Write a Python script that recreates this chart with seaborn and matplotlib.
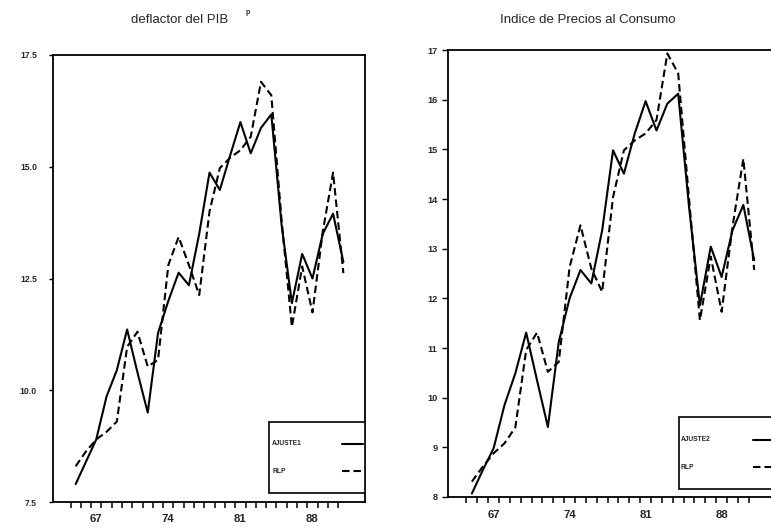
import numpy as np
import pandas as pd
import matplotlib
matplotlib.use("Agg")
import matplotlib.pyplot as plt
import seaborn as sns
from matplotlib.patches import Rectangle
from matplotlib.lines import Line2D

# ---- data ----
years = list(range(65, 92))
pib_ajuste = [7.9, 8.4, 8.9, 9.86, 10.45, 11.36, 10.4, 9.5, 11.28, 12.0, 12.63, 12.35, 13.5,
              14.87, 14.48, 15.25, 16.0, 15.3, 15.87, 16.17, 13.7, 11.95, 13.05, 12.5, 13.5,
              13.95, 12.87]
pib_rlp = [8.3, 8.63, 8.9, 9.07, 9.3, 10.97, 11.31, 10.53, 10.68, 12.8, 13.43, 12.8, 12.13,
           14.0, 14.97, 15.2, 15.37, 15.67, 16.9, 16.6, 13.8, 11.42, 12.77, 11.74, 13.55,
           14.87, 12.62]
ipc_ajuste = [8.07, 8.54, 8.98, 9.85, 10.49, 11.31, 10.35, 9.41, 11.12, 12.0, 12.57, 12.3,
              13.37, 14.98, 14.51, 15.32, 15.97, 15.38, 15.92, 16.12, 13.84, 11.86, 13.04,
              12.43, 13.37, 13.88, 12.77]
ipc_rlp = [8.31, 8.61, 8.88, 9.08, 9.4, 10.96, 11.31, 10.52, 10.72, 12.63, 13.47, 12.6, 12.13,
           14.04, 14.98, 15.18, 15.32, 15.59, 16.93, 16.53, 14.0, 11.56, 12.84, 11.73, 13.44,
           14.81, 12.57]
xtick_labels = [67, 74, 81, 88]
left_yticks = [7.5, 10.0, 12.5, 15.0, 17.5]
right_yticks = [8, 9, 10, 11, 12, 13, 14, 15, 16, 17]
titles = ["deflactor del PIB", "Indice de Precios al Consumo"]
legend_labels = [["AJUSTE1", "RLP"], ["AJUSTE2", "RLP"]]

sns.set_theme(style="white")
plt.rcParams['font.family'] = ['Liberation Sans', 'DejaVu Sans']

W, H = 771, 531
fig = plt.figure(figsize=(W / 100, H / 100), dpi=100)

def px_axes(x0, y0, x1, y1):
    return fig.add_axes([x0 / W, 1 - y1 / H, (x1 - x0) / W, (y1 - y0) / H])

axL = px_axes(53, 55, 365, 502)
axR = px_axes(448, 50, 777, 497)

panels = [
    (axL, pib_ajuste, pib_rlp, (7.5, 17.5), left_yticks, "{:.1f}", 8.5, 6.2, 3.0),
    (axR, ipc_ajuste, ipc_rlp, (8, 17), right_yticks, "{:d}", 3.5, 6.6, 4.0),
]

for i, (ax, aj, rlp, ylim, yt, fmt, ypad, yfs, ylen) in enumerate(panels):
    df = pd.DataFrame({
        "year": years * 2,
        "value": aj + rlp,
        "series": [legend_labels[i][0]] * len(years) + ["RLP"] * len(years),
    })
    sns.lineplot(data=df, x="year", y="value", style="series",
                 dashes={legend_labels[i][0]: "", "RLP": (3.6, 1.9)},
                 color="black", linewidth=1.5, legend=False, ax=ax)
    ax.set_xlim(62.8, 93.1)
    ax.set_ylim(*ylim)
    ax.set_xlabel("")
    ax.set_ylabel("")
    ax.set_xticks(xtick_labels)
    ax.set_xticklabels([str(v) for v in xtick_labels], fontsize=8.2, fontweight="bold")
    ax.set_xticks(np.arange(64.5, 91.0, 1.0), minor=True)
    ax.tick_params(axis="x", which="major", length=0, pad=9)
    ax.tick_params(axis="x", which="minor", length=4, width=1.1, direction="out",
                   color="black", bottom=True)
    ax.set_yticks(yt)
    ax.set_yticklabels([fmt.format(v) for v in yt], fontsize=yfs, fontweight="bold")
    ax.tick_params(axis="y", length=ylen, width=1.0, direction="out", color="black",
                   left=True, pad=ypad)
    for sp in ax.spines.values():
        sp.set_color("black")
        sp.set_linewidth(1.3)
        sp.set_visible(True)

    # legend box (manual, to keep left-aligned labels and right-side samples)
    if i == 0:
        bx0, by0, bx1, by1 = 0.692, 0.02, 1.0, 0.179
        tx, ty1, ty2, lx0, lx1 = 0.702, 0.130, 0.069, 0.926, 0.994
    else:
        bx0, by0, bx1, by1 = 0.702, 0.018, 1.0, 0.179
        tx, ty1, ty2, lx0, lx1 = 0.708, 0.128, 0.067, 0.927, 0.99
    ax.add_patch(Rectangle((bx0, by0), bx1 - bx0, by1 - by0, transform=ax.transAxes,
                           facecolor="white", edgecolor="black", linewidth=1.2, zorder=5))
    ax.text(tx, ty1, legend_labels[i][0], transform=ax.transAxes, fontsize=4.8,
            fontweight="bold", va="center", ha="left", zorder=6)
    ax.text(tx, ty2, legend_labels[i][1], transform=ax.transAxes, fontsize=4.8,
            fontweight="bold", va="center", ha="left", zorder=6)
    ax.add_line(Line2D([lx0, lx1], [ty1, ty1], transform=ax.transAxes, color="black",
                       linewidth=1.5, zorder=6))
    ax.add_line(Line2D([lx0, lx1], [ty2, ty2], transform=ax.transAxes, color="black",
                       linewidth=1.5, dashes=(3.6, 1.9), zorder=6))

fig.text(180 / W, 1 - 20 / H, titles[0], ha="center", va="center", fontsize=9.5)
fig.text(248 / W, 1 - 12 / H, "p", ha="center", va="center", fontsize=5, fontweight="bold")
fig.text(588 / W, 1 - 20 / H, titles[1], ha="center", va="center", fontsize=9.5)

fig.savefig("out.png", dpi=100)
